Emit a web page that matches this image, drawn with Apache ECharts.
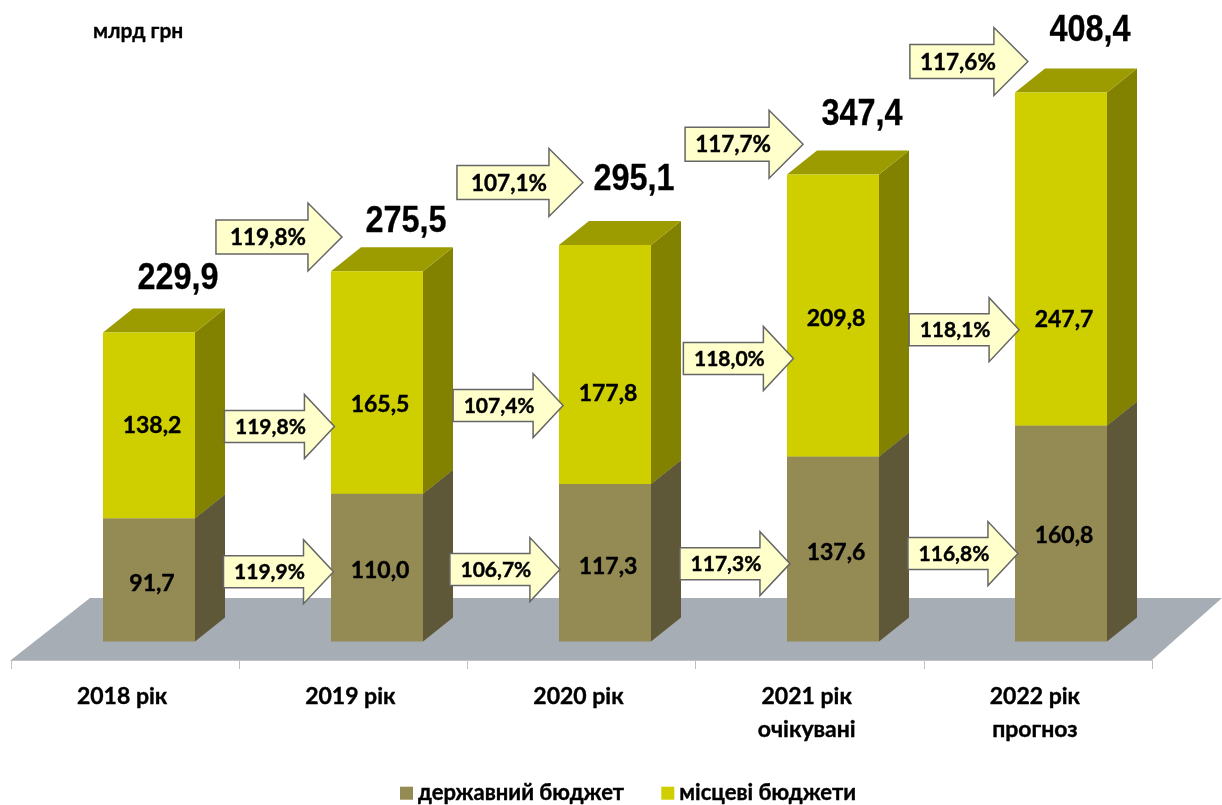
<!DOCTYPE html>
<html>
<head>
<meta charset="utf-8">
<title>Бюджети</title>
<script src="https://cdn.jsdelivr.net/npm/echarts@6/dist/echarts.min.js"></script>
<style>
html, body { margin: 0; padding: 0; background: #fff; }
#chart { width: 1222px; height: 805px; }
</style>
</head>
<body>
<div id="chart"></div>
<script>
const categories = ['2018 рік', '2019 рік', '2020 рік', '2021 рік\nочікувані', '2022 рік\nпрогноз']
const stateBudget = [91.7, 110.0, 117.3, 137.6, 160.8]
const localBudget = [138.2, 165.5, 177.8, 209.8, 247.7]
const totals = [229.9, 275.5, 295.1, 347.4, 408.4]

// growth labels, one list per row of arrows
const totalGrowth = ['119,8%', '107,1%', '117,7%', '117,6%']
const localGrowth = ['119,8%', '107,4%', '118,0%', '118,1%']
const stateGrowth = ['119,9%', '106,7%', '117,3%', '116,8%']

// where the labels and arrows sit on the value axis
const totalLabelLevel = [269.3, 311.8, 343, 392, 453.9]
const localLabelLevel = [160.7, 176.3, 184.5, 240.3, 239.6]
const stateLabelLevel = [43.1, 52.8, 55.8, 66.2, 79.1]
const totalArrowX = [0.57, 1.627, 2.61, 3.596]
const totalArrowLevel = [301, 341.5, 370, 431.5]
const localArrowX = [0.572, 1.575, 2.585, 3.575]
const localArrowLevel = [160, 175.6, 210.6, 232]
const stateArrowX = [0.568, 1.561, 2.57, 3.57]
const stateArrowLevel = [52, 53.6, 58, 65.5]

const depthX = 30
const depthY = 24
const FONT = 'Lato, "Noto Sans", sans-serif'

function fmt(v) {
  return v.toFixed(1).replace('.', ',')
}

function poly(points, fill) {
  return {type: 'polygon', shape: {points: points}, style: {fill: fill}}
}

function barRenderer(front, top, side) {
  return function (params, api) {
    const idx = api.value(0)
    const p0 = api.coord([idx, api.value(1)])
    const p1 = api.coord([idx, api.value(2)])
    const w = api.size([0.4035, 0])[0]
    const l = p0[0] - w / 2
    const r = p0[0] + w / 2
    return {
      type: 'group',
      children: [
        poly([[r, p0[1]], [r + depthX, p0[1] - depthY], [r + depthX, p1[1] - depthY], [r, p1[1]]], side),
        poly([[l, p1[1]], [r, p1[1]], [r + depthX, p1[1] - depthY], [l + depthX, p1[1] - depthY]], top),
        poly([[l, p0[1]], [r, p0[1]], [r, p1[1]], [l, p1[1]]], front)
      ]
    }
  }
}

function arrowRenderer(lens, bodyH, headH, headLen, fontSize) {
  return function (params, api) {
    const len = lens[params.dataIndex]
    const c = api.coord([api.value(0), api.value(1)])
    const x0 = c[0] - len / 2
    const x1 = c[0] + len / 2
    const y = c[1]
    const xb = x1 - headLen
    return {
      type: 'group',
      children: [
        {
          type: 'polygon',
          shape: {points: [
            [x0, y - bodyH / 2], [xb, y - bodyH / 2], [xb, y - headH / 2], [x1, y],
            [xb, y + headH / 2], [xb, y + bodyH / 2], [x0, y + bodyH / 2]
          ]},
          style: {fill: '#FFFFCC', stroke: '#666666', lineWidth: 1.5}
        },
        {
          type: 'text',
          style: {
            x: x0 + (len - headLen) / 2 + 6, y: y + 1,
            text: api.value(2),
            fill: '#000', stroke: '#000', lineWidth: 0.4,
            font: 'bold ' + fontSize + 'px ' + FONT,
            align: 'center', verticalAlign: 'middle'
          }
        }
      ]
    }
  }
}

function labelRenderer(dx, font, scaleX, weight) {
  return function (params, api) {
    const c = api.coord([api.value(0), api.value(1)])
    return {
      type: 'text',
      x: c[0] + dx,
      y: c[1],
      scaleX: scaleX,
      style: {
        x: 0, y: 0,
        text: api.value(2),
        fill: '#000', stroke: '#000', lineWidth: weight,
        font: font,
        align: 'center', verticalAlign: 'middle'
      }
    }
  }
}

function arrowSeries(xs, levels, texts, renderer) {
  return {
    type: 'custom',
    xAxisIndex: 0, yAxisIndex: 0,
    z: 5,
    silent: true,
    renderItem: renderer,
    data: xs.map((x, i) => [x, levels[i], texts[i]])
  }
}

function labelSeries(levels, texts, dx, font, scaleX, weight) {
  return {
    type: 'custom',
    xAxisIndex: 0, yAxisIndex: 0,
    z: 6,
    silent: true,
    renderItem: labelRenderer(dx, font, scaleX, weight),
    data: levels.map((v, i) => [i, v, texts[i]])
  }
}

const chart = echarts.init(document.getElementById('chart'))

const stateRows = stateBudget.map((v, i) => [i, 0, v])
const localRows = localBudget.map((v, i) => [i, stateBudget[i], stateBudget[i] + v])

chart.setOption({
  animation: false,
  title: {
    text: 'млрд грн',
    left: 88,
    top: 16,
    textStyle: {fontFamily: FONT, fontSize: 21, fontWeight: 'bold', color: '#000', textBorderColor: '#000', textBorderWidth: 0.3}
  },
  legend: {
    data: ['державний бюджет', 'місцеві бюджети'],
    left: 395,
    top: 777,
    icon: 'rect',
    itemWidth: 13,
    itemHeight: 13,
    itemGap: 37,
    selectedMode: false,
    textStyle: {fontFamily: FONT, fontSize: 22, fontWeight: 'bold', color: '#000', textBorderColor: '#000', textBorderWidth: 0.4}
  },
  grid: [
    {left: 35, width: 1140, top: 23.2, height: 618.4},
    {left: 11, width: 1141, top: 600, height: 60}
  ],
  xAxis: [
    {type: 'value', gridIndex: 0, min: -0.5, max: 4.5, show: false},
    {
      type: 'category',
      gridIndex: 1,
      data: categories,
      axisLine: {lineStyle: {color: '#BFBFBF', width: 1}},
      axisTick: {show: true, length: 9, lineStyle: {color: '#BFBFBF'}},
      axisLabel: {
        interval: 0,
        margin: 20,
        lineHeight: 33,
        padding: [0, 6, 0, 0],
        fontFamily: FONT,
        fontSize: 23,
        fontWeight: 'bold',
        color: '#000',
        textBorderColor: '#000',
        textBorderWidth: 0.4
      }
    }
  ],
  yAxis: [
    {type: 'value', gridIndex: 0, min: 0, max: 460, show: false},
    {type: 'value', gridIndex: 1, show: false}
  ],
  series: [
    {
      // floor of the 3d scene, hung off the lower axis
      type: 'custom',
      xAxisIndex: 1, yAxisIndex: 1,
      z: 1,
      silent: true,
      renderItem: function (params) {
        const g = params.coordSys
        const b = g.y + g.height
        return poly([[g.x, b], [g.x + g.width, b], [g.x + g.width + 70, b - 62], [g.x + 79, b - 62]], '#A6ADB5')
      },
      data: [[0]]
    },
    {
      name: 'державний бюджет',
      type: 'custom',
      xAxisIndex: 0, yAxisIndex: 0,
      z: 2,
      silent: true,
      itemStyle: {color: '#948A54'},
      renderItem: barRenderer('#948A54', '#76703F', '#5F5838'),
      data: stateRows
    },
    {
      name: 'місцеві бюджети',
      type: 'custom',
      xAxisIndex: 0, yAxisIndex: 0,
      z: 3,
      silent: true,
      itemStyle: {color: '#CFCF00'},
      renderItem: barRenderer('#CFCF00', '#9C9C00', '#828200'),
      data: localRows
    },
    arrowSeries(totalArrowX, totalArrowLevel, totalGrowth, arrowRenderer([126, 126, 118, 118], 34, 68, 34, 22.5)),
    arrowSeries(localArrowX, localArrowLevel, localGrowth, arrowRenderer([110, 110, 110, 110], 32, 64, 30, 21)),
    arrowSeries(stateArrowX, stateArrowLevel, stateGrowth, arrowRenderer([110, 110, 110, 110], 32, 64, 30, 21)),
    labelSeries(stateLabelLevel, stateBudget.map(fmt), 3, 'bold 23px ' + FONT, 1, 0.4),
    labelSeries(localLabelLevel, localBudget.map(fmt), 3, 'bold 23px ' + FONT, 1, 0.4),
    labelSeries(totalLabelLevel, totals.map(fmt), 29, 'bold 36px "Liberation Sans", Arial, sans-serif', 0.9, 0.3)
  ]
})
</script>
</body>
</html>
